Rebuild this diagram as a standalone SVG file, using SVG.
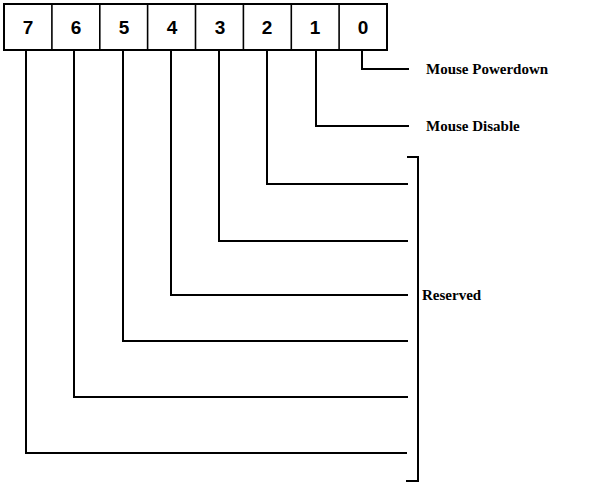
<svg xmlns="http://www.w3.org/2000/svg" width="596" height="483" viewBox="0 0 596 483">
<style>
.box{fill:#fff;stroke:#000;stroke-width:2}
.div{stroke:#000;stroke-width:1.6}
.dig{font-family:"Liberation Sans",Arial,sans-serif;font-weight:bold;font-size:19px;text-anchor:middle;fill:#000}
.lbl{font-family:"Liberation Serif","Times New Roman",serif;font-weight:bold;font-size:15px;fill:#000}
.conn{fill:none;stroke:#000;stroke-width:2}
</style>
<rect width="596" height="483" fill="#fff"/>
<g id="register">
<rect class="box" x="4" y="4" width="383" height="46"/>
<line class="div" x1="51.9" y1="4" x2="51.9" y2="50"/>
<line class="div" x1="99.8" y1="4" x2="99.8" y2="50"/>
<line class="div" x1="147.6" y1="4" x2="147.6" y2="50"/>
<line class="div" x1="195.5" y1="4" x2="195.5" y2="50"/>
<line class="div" x1="243.4" y1="4" x2="243.4" y2="50"/>
<line class="div" x1="291.3" y1="4" x2="291.3" y2="50"/>
<line class="div" x1="339.1" y1="4" x2="339.1" y2="50"/>
</g>
<g id="bit7"><text class="dig" x="28" y="34">7</text></g>
<g id="bit6"><text class="dig" x="76" y="34">6</text></g>
<g id="bit5"><text class="dig" x="124" y="34">5</text></g>
<g id="bit4"><text class="dig" x="172" y="34">4</text></g>
<g id="bit3"><text class="dig" x="220" y="34">3</text></g>
<g id="bit2"><text class="dig" x="267" y="34">2</text></g>
<g id="bit1"><text class="dig" x="315" y="34">1</text></g>
<g id="bit0"><text class="dig" x="363" y="34">0</text></g>
<g id="connectors">
<polyline class="conn" points="362,50 362,69 409,69"/>
<polyline class="conn" points="316,50 316,126 409,126"/>
<polyline class="conn" points="267,50 267,184 408,184"/>
<polyline class="conn" points="219,50 219,241 408,241"/>
<polyline class="conn" points="171,50 171,295 408,295"/>
<polyline class="conn" points="123,50 123,341 408,341"/>
<polyline class="conn" points="74,50 74,397 408,397"/>
<polyline class="conn" points="26,50 26,453 407,453"/>
<polyline class="conn" points="407,157 418,157 418,481 406,481"/>
</g>
<g id="label-powerdown"><text class="lbl" x="426" y="74">Mouse Powerdown</text></g>
<g id="label-disable"><text class="lbl" x="426" y="131">Mouse Disable</text></g>
<g id="label-reserved"><text class="lbl" x="422" y="300">Reserved</text></g>
</svg>
